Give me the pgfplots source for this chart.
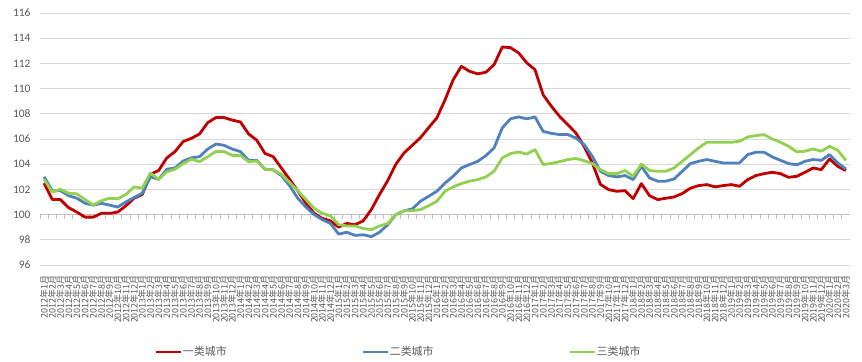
\documentclass[border=0pt]{standalone}
\usepackage{fontspec}
\setmainfont{Carlito}
\newfontfamily\cjk{Noto Sans CJK SC}
\usepackage{pgfplots}
\usepackage{pgfplotstable}
\pgfplotsset{compat=1.18}
\definecolor{cred}{HTML}{C00000}
\definecolor{cblue}{HTML}{4F81BD}
\definecolor{cgreen}{HTML}{92D050}
\definecolor{txt}{HTML}{595959}
\definecolor{grd}{HTML}{D9D9D9}
\definecolor{axl}{HTML}{BFBFBF}

\pgfplotstableread{
i r b g
0 102.5 103.0 102.8
1 101.2 101.9 101.8
2 101.2 101.9 102.0
3 100.55 101.5 101.7
4 100.2 101.3 101.65
5 99.8 100.9 101.2
6 99.8 100.75 100.75
7 100.1 100.9 101.1
8 100.1 100.75 101.3
9 100.2 100.6 101.25
10 100.7 101.0 101.6
11 101.3 101.35 102.2
12 101.6 101.7 102.1
13 103.2 103.0 103.3
14 103.5 102.8 102.8
15 104.5 103.6 103.4
16 105.0 103.7 103.6
17 105.8 104.25 104.05
18 106.05 104.5 104.4
19 106.4 104.6 104.2
20 107.3 105.2 104.6
21 107.7 105.6 105.0
22 107.7 105.5 105.0
23 107.5 105.2 104.7
24 107.35 105.0 104.7
25 106.4 104.3 104.2
26 105.9 104.3 104.25
27 104.85 103.6 103.6
28 104.6 103.55 103.55
29 103.7 103.1 103.2
30 102.8 102.3 102.55
31 101.9 101.3 101.9
32 100.9 100.6 101.2
33 100.1 100.0 100.5
34 99.7 99.6 100.1
35 99.5 99.3 99.9
36 99.0 98.45 99.2
37 99.3 98.6 99.1
38 99.2 98.35 99.1
39 99.5 98.4 98.9
40 100.4 98.25 98.8
41 101.6 98.6 99.1
42 102.7 99.2 99.3
43 104.0 100.0 100.0
44 104.9 100.3 100.3
45 105.5 100.45 100.3
46 106.1 101.06 100.4
47 106.9 101.45 100.7
48 107.67 101.85 101.06
49 109.1 102.5 101.85
50 110.7 103.04 102.2
51 111.77 103.7 102.46
52 111.37 103.97 102.65
53 111.17 104.23 102.78
54 111.3 104.68 102.99
55 111.9 105.29 103.44
56 113.3 106.88 104.5
57 113.25 107.6 104.84
58 112.83 107.75 104.97
59 112.04 107.6 104.8
60 111.5 107.75 105.16
61 109.5 106.6 103.97
62 108.6 106.45 104.07
63 107.8 106.35 104.2
64 107.14 106.35 104.37
65 106.48 106.08 104.45
66 105.42 105.56 104.28
67 104.1 104.63 104.05
68 102.4 103.44 103.57
69 101.98 103.1 103.25
70 101.85 102.99 103.25
71 101.9 103.1 103.5
72 101.27 102.78 103.04
73 102.46 103.83 104.0
74 101.5 102.91 103.5
75 101.19 102.65 103.44
76 101.3 102.65 103.44
77 101.4 102.83 103.7
78 101.67 103.44 104.23
79 102.1 104.05 104.76
80 102.3 104.23 105.29
81 102.38 104.37 105.74
82 102.2 104.23 105.74
83 102.3 104.1 105.74
84 102.38 104.1 105.74
85 102.25 104.1 105.82
86 102.78 104.76 106.16
87 103.1 104.95 106.27
88 103.25 104.95 106.35
89 103.36 104.58 106.0
90 103.25 104.31 105.74
91 102.96 104.05 105.42
92 103.04 103.95 104.98
93 103.36 104.23 105.03
94 103.7 104.37 105.21
95 103.57 104.31 105.03
96 104.42 104.76 105.42
97 103.83 104.1 105.11
98 103.49 103.62 104.29
}\data

\begin{document}
\begin{tikzpicture}
\useasboundingbox (-40bp,-97bp) rectangle (822bp,265bp);
\begin{axis}[
  scale only axis, width=810bp, height=252bp,
  xmin=-0.5, xmax=98.5, ymin=96, ymax=116,
  ytick={96,98,...,116},
  xtick={0,...,98},
  xticklabels={2012年1月,2012年2月,2012年3月,2012年4月,2012年5月,2012年6月,2012年7月,2012年8月,2012年9月,2012年10月,2012年11月,2012年12月,
  2013年1月,2013年2月,2013年3月,2013年4月,2013年5月,2013年6月,2013年7月,2013年8月,2013年9月,2013年10月,2013年11月,2013年12月,
  2014年1月,2014年2月,2014年3月,2014年4月,2014年5月,2014年6月,2014年7月,2014年8月,2014年9月,2014年10月,2014年11月,2014年12月,
  2015年1月,2015年2月,2015年3月,2015年4月,2015年5月,2015年6月,2015年7月,2015年8月,2015年9月,2015年10月,2015年11月,2015年12月,
  2016年1月,2016年2月,2016年3月,2016年4月,2016年5月,2016年6月,2016年7月,2016年8月,2016年9月,2016年10月,2016年11月,2016年12月,
  2017年1月,2017年2月,2017年3月,2017年4月,2017年5月,2017年6月,2017年7月,2017年8月,2017年9月,2017年10月,2017年11月,2017年12月,
  2018年1月,2018年2月,2018年3月,2018年4月,2018年5月,2018年6月,2018年7月,2018年8月,2018年9月,2018年10月,2018年11月,2018年12月,
  2019年1月,2019年2月,2019年3月,2019年4月,2019年5月,2019年6月,2019年7月,2019年8月,2019年9月,2019年10月,2019年11月,2019年12月,
  2020年1月,2020年2月,2020年3月},
  xticklabel style={rotate=90, anchor=east, font=\cjk\fontsize{9}{9}\selectfont, text=txt, inner sep=0pt},
  xticklabel shift=10bp,
  yticklabel style={font=\fontsize{11.5}{12}\selectfont, text=txt, xshift=-6bp},
  /pgf/number format/assume math mode=true,
  axis line style={draw=none},
  major tick style={draw=none},
  ymajorgrids, grid style={grd, line width=0.8bp},
  legend columns=3,
  legend style={at={(0.138,0)}, anchor=west, yshift=-87bp, draw=none, fill=none,
    font=\cjk\fontsize{11}{12}\selectfont, text=txt,
    nodes={inner xsep=1bp},
    /tikz/every even column/.append style={column sep=134bp}},
  legend image code/.code={\draw[#1, line width=2bp] (0bp,0bp) -- (25bp,0bp);},
  every axis plot/.append style={line width=2.8bp, line join=round, mark=none},
]
\draw[axl, line width=0.8bp] (axis cs:-0.5,100) -- (axis cs:98.5,100);
\pgfplotsinvokeforeach{-0.5,0.5,...,98.5}{\draw[axl, line width=0.8bp] (axis cs:#1,100) -- ([yshift=-4.5bp]axis cs:#1,100);}
\addplot[cred] table[x=i, y=r] {\data};
\addlegendentry{一类城市}
\addplot[cblue] table[x=i, y=b] {\data};
\addlegendentry{二类城市}
\addplot[cgreen] table[x=i, y=g] {\data};
\addlegendentry{三类城市}
\end{axis}
\end{tikzpicture}
\end{document}
